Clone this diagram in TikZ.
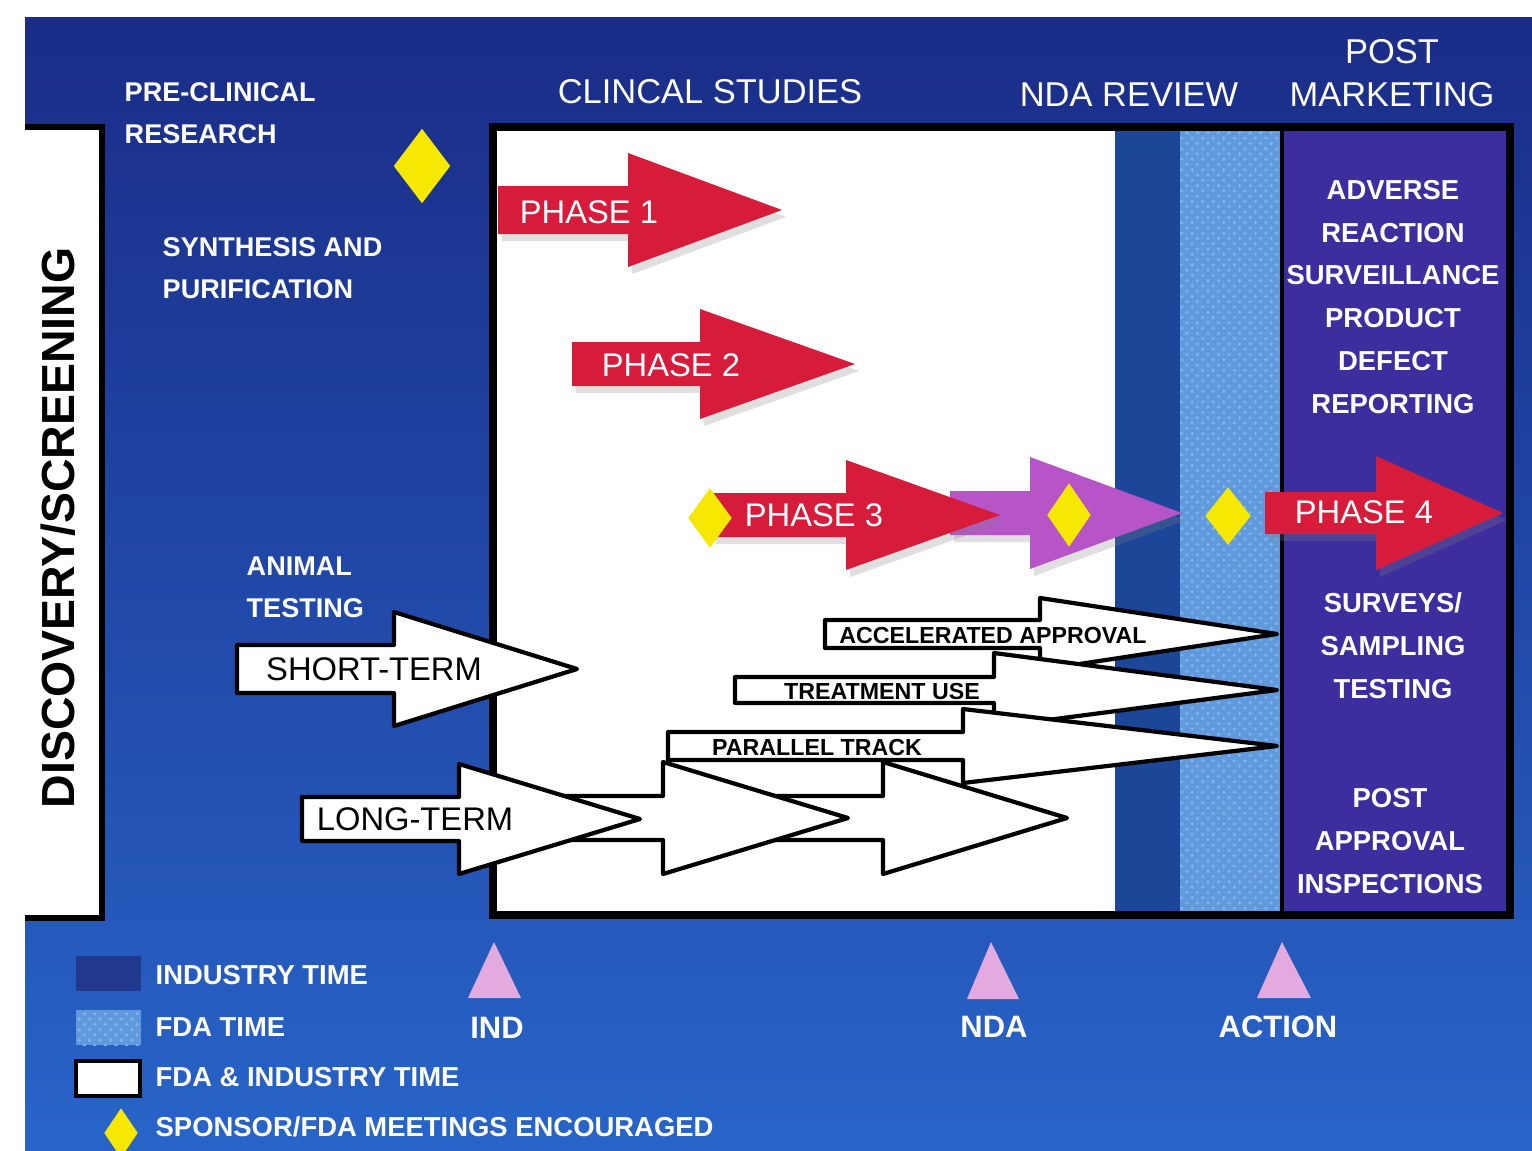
\documentclass[tikz,border=0pt]{standalone}
\usepackage{fontspec}
\setmainfont{Liberation Sans}
\usepackage{tikz}
\usetikzlibrary{shapes.geometric,shadows,patterns}

\definecolor{bgtop}{RGB}{26,44,135}
\definecolor{bgbot}{RGB}{40,100,200}
\definecolor{indblue}{RGB}{28,70,152}
\definecolor{keyblue}{RGB}{32,56,142}
\definecolor{fdablue}{RGB}{96,154,220}
\definecolor{fdadots}{RGB}{128,180,234}
\definecolor{pmviolet}{RGB}{60,46,158}
\definecolor{phred}{RGB}{214,28,58}
\definecolor{phpurple}{RGB}{182,84,200}
\definecolor{meetyellow}{RGB}{246,232,0}
\definecolor{milepink}{RGB}{226,170,222}

% block arrow: style, shaft start, head base, tip, centre y, shaft half, head half
\newcommand{\blockarrow}[7][]{%
  \path[#1] (#2,#5-#6) -- (#3,#5-#6) -- (#3,#5-#7) -- (#4,#5) -- (#3,#5+#7) -- (#3,#5+#6) -- (#2,#5+#6) -- cycle;}

\begin{document}
\begin{tikzpicture}[x=0.01cm,y=-0.01cm,
  hdr/.style={text=white,font=\fontsize{9.8}{12.2}\selectfont,align=center,inner sep=0pt},
  lbl/.style={text=white,font=\bfseries\fontsize{7.7}{12}\selectfont,align=left,anchor=west,inner sep=0pt},
  pmtext/.style={text=white,font=\bfseries\fontsize{7.8}{12.2}\selectfont,align=center,inner sep=0pt},
  phtext/.style={text=white,font=\fontsize{9.3}{11}\selectfont,inner sep=0pt},
  termtext/.style={font=\fontsize{9.3}{11}\selectfont,inner sep=0pt},
  tagtext/.style={font=\bfseries\fontsize{6.6}{8}\selectfont,inner sep=0pt},
  phasearrow/.style={fill=phred,drop shadow={shadow xshift=0.4mm,shadow yshift=-0.7mm,opacity=0.25}},
  studyarrow/.style={fill=white,draw=black,line width=1.2pt,line join=round},
  meet/.style={diamond,fill=meetyellow,inner sep=0pt},
  mile/.style={fill=milepink},
  miletext/.style={text=white,font=\bfseries\fontsize{8.8}{10}\selectfont,inner sep=0pt},
  keytext/.style={text=white,font=\bfseries\fontsize{7.8}{10}\selectfont,anchor=west,inner sep=0pt}]

\useasboundingbox (0,0) rectangle (1532,1151);
\fill[white] (0,0) rectangle (1532,1151);
\shade[top color=bgtop,bottom color=bgbot] (25,17) rectangle (1532,1151);

% discovery column
\fill[white] (25,127) rectangle (102,918);
\draw[line width=1.6pt] (25,127) -- (102,127) -- (102,918) -- (25,918);
\node[rotate=90,font=\bfseries\fontsize{13.2}{15}\selectfont] (disc) at (58,528) {DISCOVERY/SCREENING};

% main time chart
\fill[white] (493,127) rectangle (1115,915);
\fill[indblue] (1115,127) rectangle (1180,915);
\fill[fdablue] (1180,127) rectangle (1282,915);
\fill[pattern=crosshatch dots,pattern color=fdadots] (1180,127) rectangle (1282,915);
\fill[pmviolet] (1282,127) rectangle (1510,915);
\draw[line width=1.2pt] (1282,127) -- (1282,915);
\draw[line width=2.2pt] (493,127) rectangle (1510,915);

% headings
\node[lbl] (precl) at (124,113) {PRE-CLINICAL\\RESEARCH};
\node[hdr] (clin) at (710,92) {CLINCAL STUDIES};
\node[hdr] (ndarev) at (1129,95) {NDA REVIEW};
\node[hdr] (postm) at (1392,73) {POST\\MARKETING};
\node[meet,minimum width=0.57cm,minimum height=0.75cm] (m0) at (422,166) {};
\node[lbl] (synth) at (162,268) {SYNTHESIS AND\\PURIFICATION};
\node[lbl] (animal) at (246,587) {ANIMAL\\TESTING};

% phases
\blockarrow[phasearrow]{498}{628}{782}{210}{24}{57}
\blockarrow[phasearrow]{572}{700}{855}{364}{22}{55}
\blockarrow[phasearrow,fill=phpurple]{950}{1030}{1182}{513}{22}{56}
\blockarrow[phasearrow]{712}{846}{1000}{515}{22}{55}
\blockarrow[phasearrow]{1265}{1376}{1503}{513}{21}{57}
\node[phtext] (ph1) at (589,212) {PHASE 1};
\node[phtext] (ph2) at (671,365) {PHASE 2};
\node[phtext] (ph3) at (814,515) {PHASE 3};
\node[phtext] (ph4) at (1364,512) {PHASE 4};
\node[meet,minimum width=0.44cm,minimum height=0.6cm] (m1) at (710,518) {};
\node[meet,minimum width=0.44cm,minimum height=0.64cm] (m2) at (1069,515) {};
\node[meet,minimum width=0.46cm,minimum height=0.58cm] (m3) at (1228,516) {};

% post marketing
\node[pmtext] (adverse) at (1393,297) {ADVERSE\\REACTION\\SURVEILLANCE\\PRODUCT\\DEFECT\\REPORTING};
\node[pmtext] (surveys) at (1393,646) {SURVEYS/\\SAMPLING\\TESTING};
\node[pmtext] (inspect) at (1390,841) {POST\\APPROVAL\\INSPECTIONS};

% animal testing and expanded access
\blockarrow[studyarrow]{237}{394}{577}{669}{24}{57}
\blockarrow[studyarrow]{770}{883}{1067}{818}{22}{56}
\blockarrow[studyarrow]{560}{663}{848}{818}{22}{56}
\blockarrow[studyarrow]{302}{459}{640}{819}{22}{55}
\blockarrow[studyarrow]{825}{1040}{1277}{634}{14}{36}
\blockarrow[studyarrow]{735}{994}{1277}{690}{13}{37}
\blockarrow[studyarrow]{668}{963}{1277}{746}{14}{37}
\node[termtext] (short) at (374,669) {SHORT-TERM};
\node[termtext] (long) at (415,819) {LONG-TERM};
\node[tagtext] (accel) at (993,636) {ACCELERATED APPROVAL};
\node[tagtext] (treat) at (882,692) {TREATMENT USE};
\node[tagtext] (para) at (817,748) {PARALLEL TRACK};

% milestones
\fill[mile] (468,998) -- (494,942) -- (521,998) -- cycle;
\fill[mile] (967,999) -- (991,942) -- (1019,999) -- cycle;
\fill[mile] (1257,998) -- (1282,942) -- (1311,998) -- cycle;
\node[miletext] (ind) at (497,1028) {IND};
\node[miletext] (nda) at (994,1027) {NDA};
\node[miletext] (action) at (1278,1027) {ACTION};

% key
\fill[keyblue] (76,956) rectangle (141,991);
\fill[fdablue] (76,1010) rectangle (141,1045);
\fill[pattern=crosshatch dots,pattern color=fdadots] (76,1010) rectangle (141,1045);
\draw[fill=white,line width=1.2pt] (76,1061) rectangle (140,1096);
\node[meet,minimum width=0.34cm,minimum height=0.5cm] (mkey) at (121,1133) {};
\node[keytext] (kind) at (155,975) {INDUSTRY TIME};
\node[keytext] (kfda) at (155,1027) {FDA TIME};
\node[keytext] (kboth) at (155,1077) {FDA \& INDUSTRY TIME};
\node[keytext] (kmeet) at (155,1127) {SPONSOR/FDA MEETINGS ENCOURAGED};

\end{tikzpicture}
\end{document}
